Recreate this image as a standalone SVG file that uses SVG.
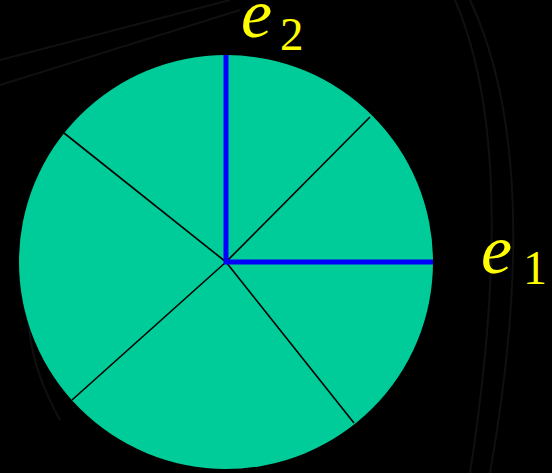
<svg xmlns="http://www.w3.org/2000/svg" width="552" height="473" viewBox="0 0 552 473">
<style>
.bg{fill:#000}
.tex{fill:none;stroke:#101010;stroke-width:2}
.disk{fill:#00CC99}
.ray{stroke:#000;stroke-width:1.6;fill:none}
.axis{stroke:#0000FF;stroke-width:5;fill:none}
.lbl{font-family:"Liberation Serif","Times New Roman",serif;fill:#FFFF00}
.it{font-style:italic}
</style>
<rect class="bg" x="0" y="0" width="552" height="473"/>
<g id="texture">
<path class="tex" d="M0 85 L240 10"/>
<path class="tex" d="M0 60 L230 0"/>
<path class="tex" d="M455 0 Q520 150 470 473"/>
<path class="tex" d="M470 0 Q545 160 490 473"/>
<path class="tex" d="M40 260 Q10 330 60 420"/>
</g>
<g id="disk">
<circle class="disk" cx="226" cy="262" r="207"/>
</g>
<g id="connectors">
<line class="ray" x1="226" y1="262" x2="370" y2="117"/>
<line class="ray" x1="226" y1="262" x2="64" y2="133"/>
<line class="ray" x1="226" y1="262" x2="72" y2="400"/>
<line class="ray" x1="226" y1="262" x2="354" y2="423"/>
<line class="axis" x1="226" y1="264" x2="226" y2="55"/>
<line class="axis" x1="224" y1="262" x2="433" y2="262"/>
</g>
<g id="label-e2">
<text class="lbl" x="241" y="37"><tspan class="it" font-size="70">e</tspan><tspan font-size="47" dx="8" dy="13">2</tspan></text>
</g>
<g id="label-e1">
<text class="lbl" x="481" y="273"><tspan class="it" font-size="70">e</tspan><tspan font-size="48" dx="11" dy="11">1</tspan></text>
</g>
</svg>
